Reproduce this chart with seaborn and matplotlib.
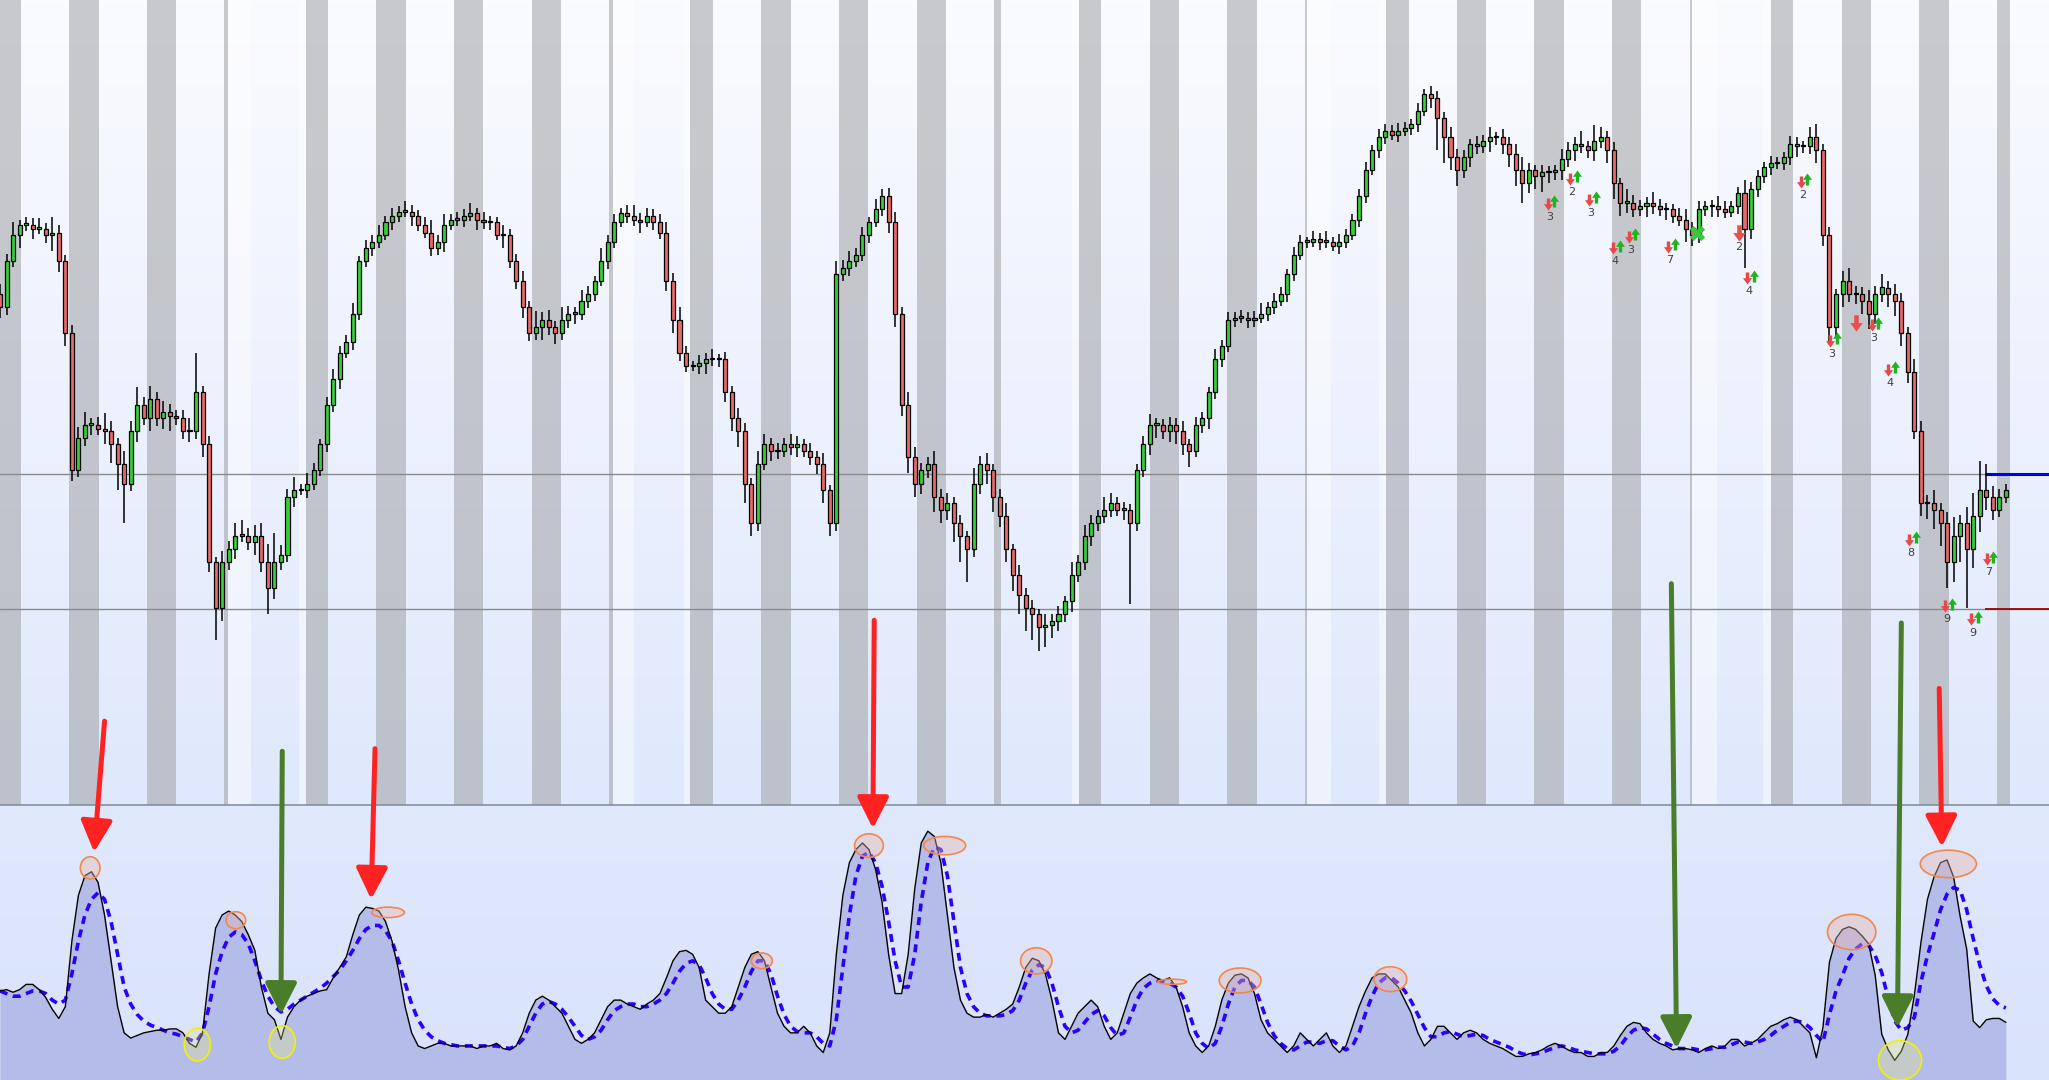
import numpy as np
import pandas as pd
import matplotlib
matplotlib.use("Agg")
import matplotlib.pyplot as plt
import seaborn as sns
from matplotlib.path import Path
from matplotlib.patches import Ellipse

# ---- price data (one candle per bar, open = previous close) ----
closes = [
    765, 800, 820, 828, 828, 825, 825, 820, 822, 800,
    745, 640, 665, 675, 675, 672, 670, 660, 645, 630,
    670, 690, 680, 695, 680, 685, 682, 680, 670, 670,
    700, 660, 570, 535, 570, 580, 590, 590, 585, 590,
    570, 550, 570, 575, 620, 625, 625, 630, 640, 660,
    690, 710, 730, 738, 760, 800, 810, 815, 820, 830,
    835, 838, 838, 835, 828, 822, 810, 815, 828, 832,
    832, 835, 837, 832, 830, 830, 820, 820, 800, 785,
    765, 745, 750, 755, 750, 745, 755, 760, 760, 770,
    775, 785, 800, 815, 830, 837, 835, 832, 830, 835,
    830, 822, 785, 755, 730, 720, 720, 722, 725, 725,
    725, 700, 680, 670, 630, 600, 645, 660, 655, 655,
    660, 658, 660, 655, 650, 645, 625, 600, 790, 795,
    800, 805, 820, 830, 840, 850, 830, 760, 690, 650,
    630, 640, 645, 620, 610, 615, 600, 590, 580, 630,
    645, 640, 620, 605, 580, 560, 545, 535, 530, 520,
    522, 525, 530, 540, 560, 570, 590, 600, 605, 610,
    615, 610, 610, 600, 640, 660, 675, 675, 670, 675,
    670, 660, 655, 675, 680, 700, 725, 735, 755, 757,
    757, 755, 757, 760, 765, 770, 775, 790, 805, 815,
    815, 817, 815, 815, 812, 815, 820, 832, 850, 870,
    885, 895, 900, 897, 900, 902, 905, 915, 928, 925,
    910, 895, 880, 870, 880, 890, 888, 892, 895, 895,
    890, 882, 870, 860, 870, 865, 868, 868, 870, 878,
    885, 890, 888, 885, 892, 895, 885, 860, 845, 845,
    840, 842, 845, 842, 840, 840, 835, 832, 825, 820,
    840, 842, 842, 840, 838, 842, 852, 825, 855, 865,
    872, 875, 875, 880, 890, 888, 888, 895, 885, 820,
    750, 775, 785, 775, 775, 770, 760, 775, 780, 775,
    770, 745, 715, 670, 615, 615, 610, 600, 570, 590,
    600, 580, 605, 625, 620, 610, 620, 625,
]
first_open = 775

wick_up = [
    8, 6, 10, 4, 6, 5, 8, 4, 12, 6,
    5, 6, 8, 10, 5, 6, 12, 8, 5, 10,
    8, 14, 6, 10, 5, 8, 6, 4, 6, 10,
    30, 5, 6, 4, 8, 6, 10, 12, 6, 8,
    10, 14, 22, 8, 6, 10, 5, 8, 6, 4,
    6, 8, 5, 6, 8, 4, 6, 5, 8, 5,
    6, 4, 8, 5, 4, 6, 10, 5, 8, 4,
    6, 5, 8, 4, 6, 5, 4, 8, 5, 6,
    8, 5, 12, 6, 8, 4, 10, 6, 5, 8,
    6, 4, 10, 5, 6, 4, 6, 8, 5, 6,
    5, 6, 8, 6, 10, 5, 4, 6, 5, 8,
    4, 6, 5, 8, 6, 4, 10, 8, 5, 6,
    5, 8, 6, 4, 6, 5, 8, 4, 10, 6,
    8, 5, 6, 4, 8, 5, 6, 8, 5, 10,
    8, 6, 5, 10, 6, 8, 5, 6, 4, 12,
    6, 8, 5, 6, 10, 4, 8, 5, 6, 4,
    8, 5, 6, 4, 10, 5, 8, 6, 5, 10,
    8, 5, 6, 4, 5, 6, 8, 5, 4, 6,
    5, 8, 4, 6, 5, 4, 8, 5, 6, 4,
    6, 4, 5, 8, 4, 6, 5, 4, 6, 5,
    4, 6, 5, 8, 4, 6, 5, 4, 5, 6,
    4, 6, 5, 4, 6, 5, 4, 6, 4, 6,
    5, 4, 8, 6, 5, 4, 6, 5, 8, 4,
    6, 5, 8, 10, 5, 4, 6, 5, 4, 8,
    6, 5, 10, 4, 12, 8, 5, 6, 4, 10,
    6, 5, 4, 8, 6, 5, 4, 6, 8, 5,
    6, 4, 5, 8, 6, 4, 5, 10, 6, 5,
    4, 6, 5, 4, 6, 5, 4, 8, 10, 5,
    6, 4, 8, 10, 6, 5, 8, 6, 10, 5,
    8, 6, 5, 10, 8, 6, 10, 5, 8, 14,
    6, 12, 18, 22, 20, 8, 6, 5,
]

wick_dn = [
    8, 6, 4, 10, 5, 8, 4, 6, 12, 8,
    10, 8, 5, 6, 8, 5, 10, 14, 20, 30,
    6, 8, 5, 10, 6, 8, 12, 5, 6, 8,
    6, 10, 8, 25, 10, 6, 8, 5, 6, 10,
    8, 20, 8, 6, 5, 8, 4, 6, 5, 4,
    6, 5, 8, 4, 6, 5, 4, 6, 5, 4,
    6, 5, 4, 8, 5, 4, 6, 5, 8, 4,
    5, 6, 4, 8, 5, 6, 4, 10, 5, 6,
    8, 6, 5, 10, 6, 8, 5, 6, 8, 5,
    6, 5, 4, 6, 5, 4, 6, 5, 8, 4,
    6, 5, 8, 10, 6, 5, 4, 6, 8, 5,
    6, 8, 10, 12, 15, 10, 6, 5, 8, 6,
    5, 6, 8, 5, 6, 8, 10, 10, 6, 5,
    6, 4, 5, 6, 4, 5, 8, 10, 8, 12,
    10, 8, 6, 12, 10, 8, 15, 20, 25, 6,
    8, 10, 12, 8, 10, 12, 15, 18, 20, 18,
    15, 10, 8, 6, 8, 5, 6, 8, 6, 5,
    6, 5, 8, 62, 6, 5, 8, 10, 6, 8,
    10, 8, 12, 5, 6, 8, 5, 6, 4, 5,
    4, 6, 5, 4, 6, 5, 4, 6, 5, 4,
    5, 4, 6, 5, 4, 6, 5, 4, 6, 5,
    4, 6, 5, 4, 6, 4, 5, 6, 4, 8,
    25, 20, 10, 12, 6, 8, 6, 5, 8, 6,
    8, 10, 12, 15, 8, 10, 12, 8, 6, 8,
    6, 8, 5, 6, 8, 5, 10, 12, 10, 8,
    6, 5, 8, 6, 5, 8, 6, 5, 10, 8,
    6, 5, 8, 6, 5, 4, 6, 30, 8, 6,
    5, 6, 4, 5, 6, 8, 5, 6, 10, 8,
    12, 8, 10, 6, 8, 10, 12, 8, 6, 10,
    12, 10, 8, 6, 10, 12, 15, 18, 20, 15,
    20, 45, 15, 12, 10, 8, 6, 5,
]

# ---- oscillator (lower pane) ----
osc = [
    68, 69, 67, 69, 73, 73, 69, 63, 54, 47,
    56, 106, 141, 156, 159, 151, 126, 91, 56, 36,
    32, 34, 36, 37, 38, 38, 39, 39, 36, 28,
    25, 36, 81, 116, 126, 129, 126, 121, 111, 99,
    71, 51, 46, 31, 48, 56, 61, 64, 66, 68,
    69, 78, 86, 94, 111, 126, 132, 131, 129, 121,
    106, 84, 56, 36, 26, 24, 26, 28, 28, 26,
    26, 26, 26, 24, 26, 26, 28, 24, 23, 26,
    36, 51, 61, 64, 61, 56, 51, 41, 31, 28,
    31, 36, 46, 56, 61, 61, 58, 56, 54, 58,
    61, 66, 78, 91, 98, 99, 96, 86, 61, 56,
    51, 51, 56, 71, 86, 96, 98, 91, 71, 51,
    41, 36, 36, 41, 36, 26, 21, 36, 96, 141,
    166, 176, 181, 176, 161, 136, 96, 66, 66, 96,
    146, 181, 190, 186, 166, 126, 86, 61, 51, 48,
    48, 50, 48, 51, 54, 58, 71, 86, 93, 91,
    81, 61, 36, 31, 41, 51, 56, 61, 56, 41,
    31, 36, 51, 66, 74, 78, 81, 78, 76, 78,
    71, 56, 36, 26, 21, 26, 41, 61, 74, 80,
    81, 78, 66, 46, 36, 31, 26, 21, 26, 36,
    31, 26, 31, 36, 26, 21, 26, 41, 56, 68,
    78, 81, 81, 76, 71, 61, 51, 36, 26, 31,
    41, 41, 36, 31, 36, 38, 36, 31, 28, 26,
    24, 21, 18, 18, 20, 21, 23, 26, 28, 26,
    23, 21, 21, 18, 18, 21, 21, 26, 34, 41,
    44, 43, 36, 31, 28, 26, 23, 24, 24, 23,
    21, 24, 26, 24, 26, 31, 31, 26, 28, 31,
    36, 41, 43, 46, 48, 46, 41, 36, 17, 40,
    90, 108, 115, 117, 115, 110, 104, 80, 35, 23,
    15, 22, 35, 65, 105, 138, 155, 166, 168, 155,
    125, 100, 45, 40, 46, 47, 47, 44,
]

signal = [
    68, 66, 64, 64, 66, 68, 68, 66, 61, 58,
    61, 81, 106, 126, 138, 143, 138, 121, 96, 71,
    58, 50, 45, 42, 40, 38, 36, 35, 33, 31,
    29, 36, 56, 81, 98, 109, 113, 111, 104, 91,
    76, 64, 56, 52, 54, 58, 61, 64, 67, 70,
    74, 79, 84, 91, 99, 108, 115, 118, 118, 114,
    106, 91, 74, 58, 46, 38, 33, 30, 28, 27,
    26, 26, 26, 26, 26, 26, 26, 25, 24, 26,
    31, 41, 51, 58, 60, 58, 54, 48, 41, 34,
    31, 33, 38, 46, 53, 56, 58, 58, 56, 56,
    58, 61, 66, 74, 83, 89, 91, 88, 78, 66,
    58, 54, 54, 61, 71, 83, 91, 91, 81, 64,
    50, 41, 37, 36, 36, 33, 28, 26, 46, 86,
    126, 156, 171, 174, 166, 148, 121, 91, 71, 71,
    96, 136, 166, 178, 176, 156, 121, 86, 66, 56,
    51, 49, 49, 49, 50, 53, 61, 74, 84, 88,
    86, 74, 56, 41, 36, 38, 44, 50, 53, 49,
    40, 34, 36, 48, 61, 70, 74, 76, 75, 74,
    71, 64, 51, 36, 28, 24, 28, 41, 58, 71,
    76, 76, 71, 58, 44, 34, 28, 24, 23, 26,
    29, 29, 28, 30, 30, 26, 23, 26, 36, 51,
    64, 74, 78, 78, 74, 68, 60, 50, 40, 33,
    33, 36, 37, 35, 33, 34, 35, 34, 31, 29,
    27, 25, 22, 20, 19, 20, 21, 23, 25, 26,
    25, 23, 22, 21, 20, 20, 20, 22, 26, 33,
    38, 40, 39, 35, 31, 28, 26, 24, 24, 24,
    23, 23, 24, 25, 25, 27, 29, 29, 28, 29,
    31, 34, 38, 41, 44, 45, 44, 40, 34, 29,
    50, 68, 80, 93, 100, 104, 103, 95, 82, 62,
    45, 38, 40, 48, 75, 95, 112, 130, 142, 147,
    145, 130, 108, 88, 72, 62, 57, 55,
]

# session shading (bar units) and lighter gap stripes
sessions = [
    (0.0, 3.2), (10.6, 15.2), (22.5, 26.9), (34.3, 34.9), (46.8, 50.2),
    (57.5, 62.1), (69.5, 73.9), (81.4, 85.9), (93.2, 93.8), (105.6, 109.1),
    (116.5, 121.1), (128.4, 132.8), (140.3, 144.8), (152.1, 153.2),
    (165.1, 168.5), (176.0, 180.4), (187.8, 192.4), (199.7, 200.1),
    (212.1, 215.6), (223.0, 227.4), (234.8, 239.4), (246.7, 251.1),
    (258.6, 258.9), (271.0, 274.4), (281.9, 286.3), (293.7, 298.3),
    (305.6, 307.6),
]
gaps = [
    (34.9, 38.4), (45.8, 46.8), (93.8, 97.0), (104.7, 105.6), (164.1, 165.1),
    (200.1, 203.7), (211.0, 212.1), (258.9, 262.8), (269.8, 271.0),
]

level_hi = 637
level_lo = 534
level_start = 303.8

# buy/sell count signals: bar, price, count
sig_bar = [236.9, 240.3, 243.2, 246.9, 249.3, 255.3, 267.4, 275.6,
           280.1, 286.5, 289.0, 292.2, 297.7, 304.1, 301.7]
sig_price = [844, 863, 847, 810, 819, 811, 787, 861,
             739, 751, 717, 587, 536, 572, 526]
sig_count = ["3", "2", "3", "4", "3", "7", "4", "2",
             "3", "3", "4", "8", "9", "7", "9"]
sell_bar = [266.1, 284.1]
sell_price = [822, 753]
sell_count = ["2", ""]
cross_bar, cross_price = 259.7, 822

# oscillator markers
peak_x = [13.8, 36.1, 59.4, 116.6, 133.0, 144.6, 158.6, 179.4, 189.8, 212.8, 283.4, 298.2]
peak_y = [162, 122, 128, 91, 179, 179, 91, 75, 76, 77, 113, 165]
peak_w = [3.0, 3.0, 5.0, 3.2, 4.4, 6.4, 4.8, 4.4, 6.4, 5.0, 7.4, 8.6]
peak_h = [17, 13, 8, 12, 18, 14, 20, 4, 19, 19, 27, 21]
trough_x = [30.2, 43.2, 290.8]
trough_y = [27, 29, 15]
trough_w = [4.0, 4.0, 6.6]
trough_h = [25, 25, 30]

sell_arrows = [((16.0, 274), (14.4, 174)), ((57.4, 253), (56.8, 138)),
               ((133.8, 351), (133.6, 192)), ((296.8, 299), (297.2, 178))]
buy_arrows = [((43.2, 251), (43.0, 50)), ((255.8, 379), (256.6, 24)),
              ((291.0, 349), (290.4, 40))]

# ---------------------------------------------------------------
sns.set_theme(style="white")
plt.rcParams["font.family"] = ["DejaVu Sans"]

n = len(closes)
bars = np.arange(n)
close_arr = np.array(closes, dtype=float)
open_arr = np.concatenate([[first_open], close_arr[:-1]])
high_arr = np.maximum(open_arr, close_arr) + np.array(wick_up)
low_arr = np.minimum(open_arr, close_arr) - np.array(wick_dn)

XMAX = 313.6
fig = plt.figure(figsize=(20.49, 10.80), dpi=100)
split = 275 / 1080
ax1 = fig.add_axes([0, split, 1, 1 - split])
ax2 = fig.add_axes([0, 0, 1, split])
ax2.set_zorder(3)
ax2.patch.set_alpha(0)

# top pane background gradient
grad = np.linspace(0, 1, 256)[:, None, None]
top_c = np.array([250, 251, 255]) / 255
bot_c = np.array([223, 232, 252]) / 255
img = top_c * (1 - grad) + bot_c * grad
ax1.imshow(img, extent=(0, XMAX, 384, 1000), aspect="auto", zorder=0, origin="upper")

for a, b in gaps:
    ax1.axvspan(a, b, color="white", alpha=0.45, lw=0, zorder=0.5)
for a, b in sessions:
    ax1.axvspan(a, b, color="#9fa0a3", alpha=0.54, lw=0, zorder=1)

ax1.axhline(level_hi, color="#8a8a8a", lw=1.0, zorder=2)
ax1.axhline(level_lo, color="#8a8a8a", lw=1.0, zorder=2)
ax1.hlines(level_hi, level_start, XMAX, color="#0000ee", lw=2.2, zorder=2.5)
ax1.hlines(level_lo, level_start, XMAX, color="#a00000", lw=1.3, zorder=2.5)

# candles
ax1.vlines(bars, low_arr, high_arr, color="black", lw=1.1, zorder=3)
up = close_arr >= open_arr
body = np.where(np.abs(close_arr - open_arr) < 1, 1, close_arr - open_arr)
ax1.bar(bars, body, bottom=open_arr, width=0.62,
        color=np.where(up, "#38d038", "#e86a6a"), edgecolor="black",
        linewidth=0.9, zorder=4)

# signal markers
down_path = Path([(-0.28, 1), (0.28, 1), (0.28, 0.05), (0.75, 0.05), (0, -1),
                  (-0.75, 0.05), (-0.28, 0.05), (-0.28, 1)])
up_path = Path([(x, -y) for x, y in down_path.vertices])
sb = np.array(sig_bar)
sp = np.array(sig_price)
ax1.scatter(sb, sp, marker=down_path, s=75, color="#e84848", lw=0, zorder=5)
ax1.scatter(sb + 1.0, sp + 2, marker=up_path, s=75, color="#1eb41e", lw=0, zorder=5)
for x, y, t in zip(sb, sp, sig_count):
    ax1.text(x + 0.3, y - 10, t, fontsize=8, color="#404040",
             ha="center", va="center", zorder=5)
ax1.scatter(sell_bar, sell_price, marker=down_path, s=140, color="#e85050", lw=0, zorder=5)
for x, y, t in zip(sell_bar, sell_price, sell_count):
    ax1.text(x, y - 11, t, fontsize=8, color="#404040", ha="center", va="center", zorder=5)
ax1.scatter([cross_bar], [cross_price], marker="X", s=120, color="#3cc43c", lw=0, zorder=5)

ax1.set_xlim(0, XMAX)
ax1.set_ylim(384, 1000)
ax1.axis("off")

# lower pane
grad2 = np.linspace(0, 1, 64)[:, None, None]
img2 = (np.array([224, 232, 252]) / 255) * (1 - grad2) + (np.array([217, 227, 251]) / 255) * grad2
ax2.imshow(img2, extent=(0, XMAX, 0, 210), aspect="auto", zorder=0, origin="upper")
df = pd.DataFrame({"bar": bars, "osc": osc, "signal": signal})
ax2.fill_between(df["bar"], 0, df["osc"], color="#b4bce9", lw=0, zorder=1)
sns.lineplot(data=df, x="bar", y="osc", ax=ax2, color="black", lw=1.0, zorder=3)
sns.lineplot(data=df, x="bar", y="signal", ax=ax2, color="#2a00ff", lw=2.6,
             linestyle=(0, (2.2, 1.6)), zorder=2)

for x, y, w, h in zip(peak_x, peak_y, peak_w, peak_h):
    ax2.add_patch(Ellipse((x, y), w, h, facecolor=(0.91, 0.71, 0.68, 0.4),
                          edgecolor="#f4874b", lw=1.2, zorder=4))
for x, y, w, h in zip(trough_x, trough_y, trough_w, trough_h):
    ax2.add_patch(Ellipse((x, y), w, h, facecolor=(0.90, 0.91, 0.51, 0.32),
                          edgecolor="#f2f200", lw=1.2, zorder=4))

for tail, head in sell_arrows:
    ax2.annotate("", xy=head, xytext=tail, annotation_clip=False,
                 arrowprops=dict(arrowstyle="-|>,head_length=0.95,head_width=0.48",
                                 mutation_scale=20, color="#ff2222", lw=3.6,
                                 shrinkA=0, shrinkB=0, clip_on=False), zorder=6)
for tail, head in buy_arrows:
    ax2.annotate("", xy=head, xytext=tail, annotation_clip=False,
                 arrowprops=dict(arrowstyle="-|>,head_length=0.95,head_width=0.48",
                                 mutation_scale=20, color="#4a7d2a", lw=3.6,
                                 shrinkA=0, shrinkB=0, clip_on=False), zorder=6)

ax2.set_xlim(0, XMAX)
ax2.set_ylim(0, 210)
ax2.set_xticks([])
ax2.set_yticks([])
ax2.set_xlabel("")
ax2.set_ylabel("")
for side in ["left", "right", "bottom"]:
    ax2.spines[side].set_visible(False)
ax2.spines["top"].set_color("#7b8a9b")
ax2.spines["top"].set_linewidth(1.1)

fig.savefig("out.png", dpi=100)
